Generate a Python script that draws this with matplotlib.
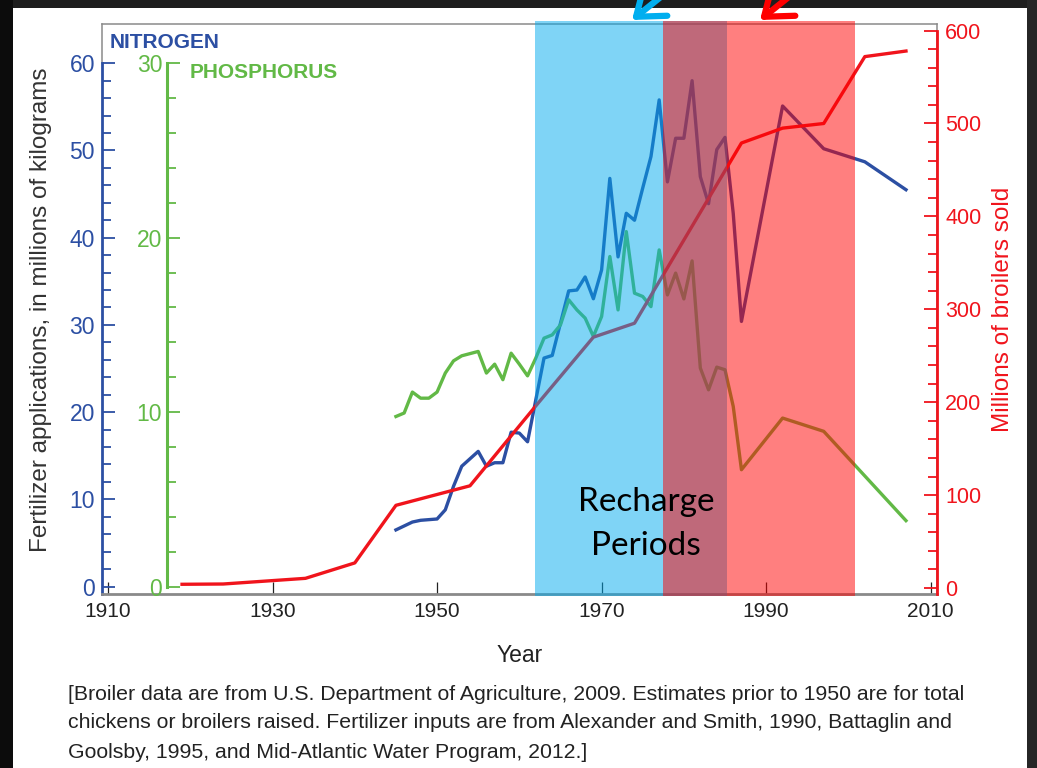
import matplotlib.pyplot as plt
from matplotlib.patches import Rectangle, FancyArrowPatch

# nitrogen applications, millions of kg
years_n = [1945, 1947, 1948, 1950, 1951, 1952, 1953, 1955, 1956, 1957, 1958, 1959,
           1960, 1961, 1963, 1964, 1966, 1967, 1968, 1969, 1970, 1971, 1972, 1973,
           1974, 1975, 1976, 1977, 1978, 1979, 1980, 1981, 1982, 1983, 1984, 1985,
           1986, 1987, 1992, 1997, 2002, 2007]
nitrogen = [6.5, 7.4, 7.6, 7.75, 8.8, 11.5, 13.8, 15.5, 13.8, 14.2, 14.2, 17.7,
            17.6, 16.6, 26.2, 26.5, 33.9, 34.0, 35.5, 33.0, 36.3, 46.8, 37.8, 42.8,
            42.0, 45.7, 49.3, 55.8, 46.4, 51.4, 51.4, 58.0, 47.0, 43.9, 50.1, 51.5,
            42.8, 30.4, 55.1, 50.2, 48.7, 45.5]

# phosphorus applications, millions of kg
years_p = [1945, 1946, 1947, 1948, 1949, 1950, 1951, 1952, 1953, 1955, 1956, 1957,
           1958, 1959, 1960, 1961, 1962, 1963, 1964, 1965, 1966, 1967, 1968, 1969,
           1970, 1971, 1972, 1973, 1974, 1975, 1976, 1977, 1978, 1979, 1980, 1981,
           1982, 1983, 1984, 1985, 1986, 1987, 1992, 1997, 2007]
phosphorus = [9.75, 9.95, 11.15, 10.8, 10.8, 11.15, 12.24, 12.94, 13.23, 13.48, 12.24, 12.75,
              11.86, 13.38, 12.75, 12.08, 13.1, 14.24, 14.43, 15.0, 16.44, 15.86, 15.39, 14.34,
              15.48, 18.92, 15.86, 20.35, 16.82, 16.63, 16.05, 19.3, 16.72, 17.97, 16.49, 18.67,
              12.53, 11.28, 12.58, 12.43, 10.33, 6.7, 9.66, 8.9, 3.78]

# broilers sold, millions
years_b = [1919, 1924, 1934, 1940, 1945, 1954, 1962, 1969, 1974, 1987, 1992, 1997, 2002, 2007]
broilers = [4, 4.3, 10.4, 27, 89, 110, 196, 270, 285, 479, 495, 500, 572, 578]

x_ticks = [1910, 1930, 1950, 1970, 1990, 2010]
n_ticks = [0, 10, 20, 30, 40, 50, 60]
p_ticks = [0, 10, 20, 30]
b_ticks = [0, 100, 200, 300, 400, 500, 600]
blue_period = (1961.9, 1985.2)
red_period = (1977.5, 2000.8)

caption = ["[Broiler data are from U.S. Department of Agriculture, 2009. Estimates prior to 1950 are for total",
           "chickens or broilers raised. Fertilizer inputs are from Alexander and Smith, 1990, Battaglin and",
           "Goolsby, 1995, and Mid-Atlantic Water Program, 2012.]"]

BLUE = '#2c4fa3'
GREEN = '#62b946'
RED = '#f0141c'
GRAY = '#8a8a8a'
SANS = ['Liberation Sans', 'DejaVu Sans']

W, H = 1037, 768
def fx(px):
    return px / W
def fy(py):
    return 1 - py / H

fig = plt.figure(figsize=(10.37, 7.68), dpi=100)
fig.patch.set_facecolor('white')

ax = fig.add_axes([fx(102), fy(594), 835 / W, 570 / H])
ax.set_xlim(1909.27, 2010.77)
ax.set_ylim(-0.85, 64.5)
ax2 = ax.twinx()
ax2.set_ylim(-0.425, 32.25)
ax3 = ax.twinx()
ax3.set_ylim(-6.46, 607.1)

# frame
ax.spines['top'].set_color(GRAY)
ax.spines['top'].set_linewidth(1.1)
ax.spines['right'].set_color(GRAY)
ax.spines['right'].set_linewidth(1.1)
ax.spines['bottom'].set_color(GRAY)
ax.spines['bottom'].set_linewidth(2)
ax.spines['left'].set_color(BLUE)
ax.spines['left'].set_linewidth(2)
ax.spines['left'].set_bounds(-0.85, 60)
ax.plot([0, 0], [60, 64.5], transform=ax.get_yaxis_transform(), color=GRAY,
        lw=1.1, clip_on=False)

for s in ['top', 'bottom', 'right']:
    ax2.spines[s].set_visible(False)
ax2.spines['left'].set_visible(True)
ax2.spines['left'].set_position(('axes', 65 / 835))
ax2.spines['left'].set_bounds(0, 30)
ax2.spines['left'].set_color(GREEN)
ax2.spines['left'].set_linewidth(2.2)
ax2.yaxis.tick_left()

for s in ['top', 'bottom', 'left']:
    ax3.spines[s].set_visible(False)
ax3.spines['right'].set_color(RED)
ax3.spines['right'].set_linewidth(2)
ax3.spines['right'].set_bounds(-6.46, 600)

# ticks
ax.set_xticks(x_ticks)
ax.tick_params(axis='x', direction='in', length=8.5, width=0.9, color='#222222',
               labelsize=15, labelcolor='#222222', pad=6, labelfontfamily=SANS)

ax.set_yticks(n_ticks)
ax.set_yticks(range(0, 61, 2), minor=True)
ax.tick_params(axis='y', which='both', direction='in', color=BLUE, width=1.3,
               labelcolor=BLUE, labelsize=16.5, pad=5, labelfontfamily=SANS)
ax.tick_params(axis='y', which='major', length=9.5)
ax.tick_params(axis='y', which='minor', length=6.5)

ax2.set_yticks(p_ticks)
ax2.set_yticks(range(0, 31, 2), minor=True)
ax2.tick_params(axis='y', which='both', direction='in', color=GREEN, width=1.3,
                labelcolor=GREEN, labelsize=16.5, pad=3.5, labelfontfamily=SANS)
ax2.tick_params(axis='y', which='major', length=9.5)
ax2.tick_params(axis='y', which='minor', length=6.5)

ax3.set_yticks(b_ticks)
ax3.set_yticks(range(0, 601, 20), minor=True)
ax3.tick_params(axis='y', which='both', direction='in', color=RED, width=1.3,
                labelcolor=RED, labelsize=15.5, pad=6, labelfontfamily=SANS)
ax3.tick_params(axis='y', which='major', length=9.5)
ax3.tick_params(axis='y', which='minor', length=6.5)

# data lines
ax.plot(years_n, nitrogen, color=BLUE, lw=2.4)
ax2.plot(years_p, phosphorus, color=GREEN, lw=2.4)
ax3.plot(years_b, broilers, color=RED, lw=2.4)

# recharge periods drawn over the lines
ax3.axvspan(*blue_period, ymin=-0.003, ymax=1.0055, color='#00aaee', alpha=0.5,
            lw=0, zorder=5, clip_on=False)
ax3.axvspan(*red_period, ymin=-0.003, ymax=1.0055, color='#ff0000', alpha=0.5,
            lw=0, zorder=6, clip_on=False)

# texts
fig.text(fx(110), fy(43), 'NITROGEN', color=BLUE, fontsize=15, fontweight='bold',
         family=SANS, va='center', ha='left')
fig.text(fx(190), fy(72), 'PHOSPHORUS', color=GREEN, fontsize=15, fontweight='bold',
         family=SANS, va='center', ha='left')
fig.text(fx(41), fy(310), 'Fertilizer applications, in millions of kilograms',
         rotation=90, color='#333333', fontsize=17.5, family=SANS, ha='center', va='center')
fig.text(fx(1003), fy(309), 'Millions of broilers sold', rotation=90, color=RED,
         fontsize=17.5, family=SANS, ha='center', va='center')
fig.text(fx(520), fy(656), 'Year', color='#222222', fontsize=16.5, family=SANS,
         ha='center', va='center')
for i, line in enumerate(caption):
    fig.text(fx(68), fy(694 + 29 * i), line, color='#222222', fontsize=15.3, family=SANS,
             ha='left', va='center')
fig.text(fx(646), fy(502), 'Recharge', color='black', fontsize=24, family=['Lato', 'DejaVu Sans'],
         ha='center', va='center', zorder=10)
fig.text(fx(646), fy(546), 'Periods', color='black', fontsize=24, family=['Lato', 'DejaVu Sans'],
         ha='center', va='center', zorder=10)

# dark slide border
fig.add_artist(Rectangle((0, fy(8)), 1, 8 / H, transform=fig.transFigure,
                         facecolor='#1e1e1e', edgecolor='none', zorder=20))
fig.add_artist(Rectangle((0, 0), fx(13), 1, transform=fig.transFigure,
                         facecolor='#0c0c0c', edgecolor='none', zorder=20))
fig.add_artist(Rectangle((fx(1027), 0), 1 - fx(1027), 1, transform=fig.transFigure,
                         facecolor='#262626', edgecolor='none', zorder=20))

# arrows pointing at the two periods
for tip, col in [((632, 20), '#00aeef'), ((760, 20), '#ff0000')]:
    arr = FancyArrowPatch((fx(tip[0] + 40), fy(tip[1] - 32)), (fx(tip[0]), fy(tip[1])),
                          transform=fig.transFigure, arrowstyle='->,head_length=0.6,head_width=0.45',
                          mutation_scale=30, color=col, lw=4.5, zorder=25,
                          shrinkA=0, shrinkB=0)
    fig.add_artist(arr)

fig.savefig('out.png', dpi=100)
